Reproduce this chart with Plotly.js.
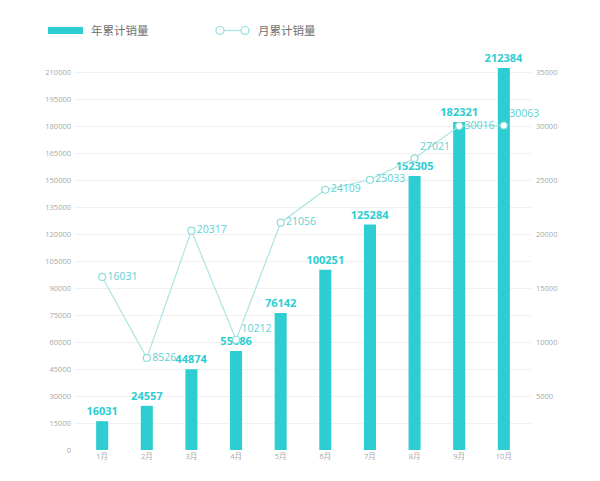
<!DOCTYPE html>
<html>
<head>
<meta charset="utf-8">
<script src="https://cdn.plot.ly/plotly-3.0.1.min.js"></script>
<style>
  html, body { margin: 0; padding: 0; background: #fff; }
  #chart { width: 600px; height: 481px; }
</style>
</head>
<body>
<div id="chart"></div>
<script>
// categories on the x axis
var months = ['1月', '2月', '3月', '4月', '5月', '6月', '7月', '8月', '9月', '10月'];

// yearly cumulative sales (bars, left axis)
var yearTotal = [16031, 24557, 44874, 55086, 76142, 100251, 125284, 152305, 182321, 212384];

// monthly sales (line, right axis)
var monthTotal = [16031, 8526, 20317, 10212, 21056, 24109, 25033, 27021, 30016, 30063];

// tick values for both axes
var leftTicks = [0, 15000, 30000, 45000, 60000, 75000, 90000, 105000, 120000, 135000, 150000, 165000, 180000, 195000, 210000];
var rightTicks = [5000, 10000, 15000, 20000, 25000, 30000, 35000];

var legendNames = ['年累计销量', '月累计销量'];

var barColor = '#2ecdd1';
var lineColor = '#a9e5e3';
var labelFont = '"Open Sans", "Noto Sans CJK SC", sans-serif';

// axes go a little past the top tick so the last bar fits; both keep the same ratio
var leftMax = 214000;
var rightMax = 35000 * leftMax / 210000;

// plot area in pixels, used to place the hand drawn legend
var W = 600, H = 481;
var margin = {l: 75, r: 69, t: 65, b: 31};
var plotW = W - margin.l - margin.r;
var plotH = H - margin.t - margin.b;
function px(x) { return (x - margin.l) / plotW; }
function py(y) { return (H - margin.b - y) / plotH; }

// a few line labels sit a bit higher so they clear the bar labels and right ticks
var raised = ['4月', '8月', '10月'];
var linePos = months.map(function(m) {
    return raised.indexOf(m) >= 0 ? 'top right' : 'middle right';
});

var bars = {
    type: 'bar',
    x: months,
    y: yearTotal,
    name: legendNames[0],
    marker: {color: barColor},
    width: 0.27,
    text: yearTotal.map(String),
    textposition: 'outside',
    constraintext: 'none',
    cliponaxis: false,
    textfont: {family: labelFont, size: 11, color: barColor, weight: 'bold'},
    hoverinfo: 'none'
};

var line = {
    type: 'scatter',
    mode: 'lines+markers+text',
    x: months,
    y: monthTotal,
    yaxis: 'y2',
    name: legendNames[1],
    line: {color: lineColor, width: 1.2},
    marker: {size: 7, color: '#ffffff', line: {color: '#8fdcd9', width: 1.2}},
    text: monthTotal.map(String),
    textposition: linePos,
    cliponaxis: false,
    textfont: {family: labelFont, size: 10.5, color: '#5ed2d0'},
    hoverinfo: 'none'
};

var tickFont = {family: labelFont, size: 7.5, color: '#a8a8a8'};

// legend drawn by hand: wide bar swatch, and a line with two open circles
var shapes = [
    {type: 'rect', xref: 'paper', yref: 'paper', x0: px(48), x1: px(83), y0: py(34), y1: py(27),
     fillcolor: barColor, line: {width: 0}},
    {type: 'line', xref: 'paper', yref: 'paper', x0: px(224), x1: px(241), y0: py(30.5), y1: py(30.5),
     line: {color: lineColor, width: 1.2}},
    {type: 'circle', xref: 'paper', yref: 'paper', x0: px(216), x1: px(224), y0: py(34.5), y1: py(26.5),
     fillcolor: '#fff', line: {color: '#8fdcd9', width: 1.2}},
    {type: 'circle', xref: 'paper', yref: 'paper', x0: px(241), x1: px(249), y0: py(34.5), y1: py(26.5),
     fillcolor: '#fff', line: {color: '#8fdcd9', width: 1.2}}
];

var legendFont = {family: '"Noto Sans CJK SC", sans-serif', size: 11.5, color: '#707070'};
var annotations = [
    {xref: 'paper', yref: 'paper', x: px(89), y: py(30.5), xanchor: 'left', yanchor: 'middle',
     text: legendNames[0], showarrow: false, font: legendFont},
    {xref: 'paper', yref: 'paper', x: px(256), y: py(30.5), xanchor: 'left', yanchor: 'middle',
     text: legendNames[1], showarrow: false, font: legendFont}
];

var layout = {
    width: W,
    height: H,
    margin: margin,
    paper_bgcolor: '#ffffff',
    plot_bgcolor: '#ffffff',
    showlegend: false,
    xaxis: {
        type: 'category',
        automargin: false,
        tickfont: tickFont,
        showgrid: false,
        zeroline: false,
        ticks: '',
        showline: false
    },
    yaxis: {
        range: [0, leftMax],
        automargin: false,
        tickvals: leftTicks,
        ticktext: leftTicks.map(String),
        tickfont: tickFont,
        showgrid: true,
        gridcolor: '#f1f1f1',
        gridwidth: 1,
        zeroline: false,
        showline: false,
        ticks: '',
        ticklabelstandoff: 3
    },
    yaxis2: {
        overlaying: 'y',
        side: 'right',
        automargin: false,
        range: [0, rightMax],
        tickvals: rightTicks,
        ticktext: rightTicks.map(String),
        tickfont: tickFont,
        showgrid: false,
        zeroline: false,
        showline: false,
        ticks: '',
        ticklabelstandoff: 4
    },
    shapes: shapes,
    annotations: annotations
};

Plotly.newPlot('chart', [bars, line], layout, {displayModeBar: false, staticPlot: true});
</script>
</body>
</html>
